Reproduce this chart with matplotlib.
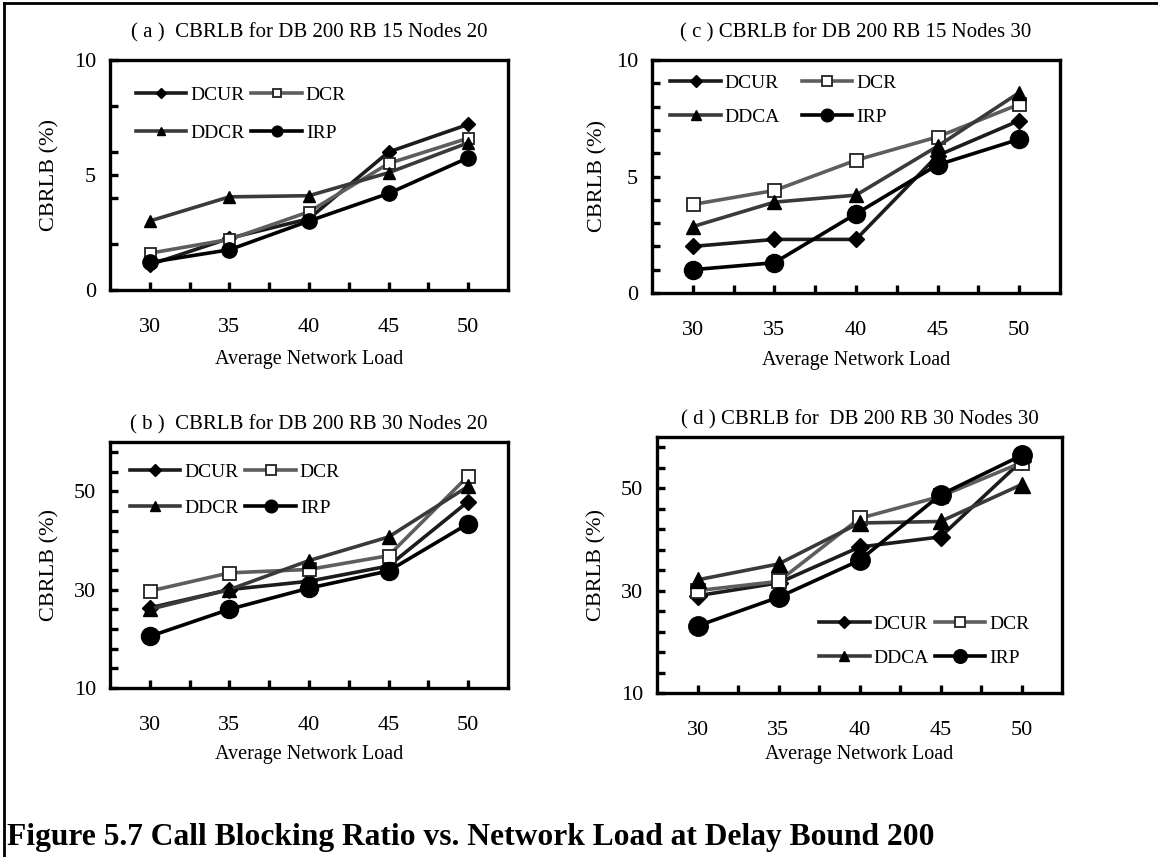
"""Call blocking ratio vs. network load, four-panel figure."""
import matplotlib
matplotlib.use("Agg")
import matplotlib.pyplot as plt
from matplotlib.lines import Line2D
from matplotlib.ticker import FixedLocator
import numpy as np

plt.rcParams["font.family"] = ["Liberation Serif", "DejaVu Serif"]
plt.rcParams["font.size"] = 14

loads = [30, 35, 40, 45, 50]

# (a) DB 200, RB 15, 20 nodes
a_dcur = [1.1, 2.25, 3.1, 6.0, 7.2]
a_dcr = [1.6, 2.2, 3.4, 5.5, 6.6]
a_ddcr = [3.0, 4.05, 4.1, 5.1, 6.4]
a_irp = [1.2, 1.75, 3.0, 4.2, 5.75]

# (c) DB 200, RB 15, 30 nodes
c_dcur = [2.0, 2.3, 2.3, 5.9, 7.4]
c_dcr = [3.8, 4.4, 5.7, 6.7, 8.1]
c_ddca = [2.85, 3.9, 4.2, 6.3, 8.6]
c_irp = [1.0, 1.3, 3.4, 5.5, 6.6]

# (b) DB 200, RB 30, 20 nodes
b_dcur = [26.3, 30.0, 31.7, 34.8, 47.9]
b_dcr = [29.7, 33.4, 34.1, 36.9, 53.1]
b_ddcr = [26.0, 30.0, 35.9, 40.7, 51.0]
b_irp = [20.5, 26.0, 30.3, 33.8, 43.4]

# (d) DB 200, RB 30, 30 nodes
d_dcur = [29.0, 31.5, 38.5, 40.5, 55.3]
d_dcr = [30.0, 31.8, 44.1, 48.4, 55.0]
d_ddca = [32.1, 35.2, 43.2, 43.5, 50.7]
d_irp = [23.1, 28.7, 35.9, 48.7, 56.4]

W, H = 1158, 857


def px_axes(fig, left, top, right, bottom):
    return fig.add_axes([left / W, 1 - bottom / H, (right - left) / W, (bottom - top) / H])


def panel(ax, title, series, names, ylim, major, minor, circle, leg_anchor, colsp, lblsp):
    styles = [
        dict(color="#1c1c1c", marker="D", ms=circle * 0.65, mfc="black", mec="black"),
        dict(color="#5e5e5e", marker="s", ms=circle * 0.72, mfc="white", mec="#222222", mew=1.3),
        dict(color="#3a3a3a", marker="^", ms=circle * 0.8, mfc="black", mec="black"),
        dict(color="black", marker="o", ms=circle, mfc="black", mec="black"),
    ]
    for vals, name, st in zip(series, names, styles):
        ax.plot(loads, vals, lw=2.6, label=name, **st)

    ax.set_xlim(27.5, 52.5)
    ax.set_ylim(*ylim)
    ax.set_xticks(loads)
    ax.xaxis.set_minor_locator(FixedLocator([32.5, 37.5, 42.5, 47.5]))
    ax.set_yticks(major)
    ax.yaxis.set_minor_locator(FixedLocator(minor))
    ax.tick_params(which="both", direction="in", length=6, width=2.4,
                   top=False, right=False, labelsize=16)
    ax.tick_params(axis="x", pad=20)
    ax.tick_params(axis="y", pad=10)
    for sp in ax.spines.values():
        sp.set_linewidth(2.4)

    ax.text(0.5, title[1], title[0], transform=ax.transAxes,
            ha="center", va="center", fontsize=15)
    ax.set_xlabel("Average Network Load", fontsize=14.5)
    ax.set_ylabel("CBRLB (%)", fontsize=16)

    order = [0, 2, 1, 3]
    h, l = ax.get_legend_handles_labels()
    ax.legend([h[i] for i in order], [l[i] for i in order], ncol=2,
              loc="upper left", bbox_to_anchor=leg_anchor, frameon=False,
              borderpad=0, borderaxespad=0, handlelength=2.6,
              handletextpad=0.2, columnspacing=colsp, labelspacing=lblsp,
              markerscale=0.7, fontsize=14)


fig = plt.figure(figsize=(W / 100, H / 100), dpi=100)

ax_a = px_axes(fig, 110, 60, 508, 290)
ax_c = px_axes(fig, 652, 60, 1060, 293)
ax_b = px_axes(fig, 110, 442, 508, 688)
ax_d = px_axes(fig, 657, 437, 1062, 693)

panel(ax_a, ("( a )  CBRLB for DB 200 RB 15 Nodes 20", 1 + 27 / 230),
      [a_dcur, a_dcr, a_ddcr, a_irp], ["DCUR", "DCR", "DDCR", "IRP"],
      (0, 10), [0, 5, 10], [2, 4, 6, 8], 11, (0.065, 0.885), 0.35, 1.05)
panel(ax_c, ("( c ) CBRLB for DB 200 RB 15 Nodes 30", 1 + 27 / 233),
      [c_dcur, c_dcr, c_ddca, c_irp], ["DCUR", "DCR", "DDCA", "IRP"],
      (0, 10), [0, 5, 10], np.arange(1, 10), 13, (0.045, 0.94), 1.1, 0.85)
panel(ax_b, ("( b )  CBRLB for DB 200 RB 30 Nodes 20", 1 + 17 / 246),
      [b_dcur, b_dcr, b_ddcr, b_irp], ["DCUR", "DCR", "DDCR", "IRP"],
      (10, 60), [10, 30, 50], np.arange(14, 60, 4), 13, (0.05, 0.915), 0.35, 0.95)
panel(ax_d, ("( d ) CBRLB for  DB 200 RB 30 Nodes 30", 1 + 17 / 256),
      [d_dcur, d_dcr, d_ddca, d_irp], ["DCUR", "DCR", "DDCA", "IRP"],
      (10, 60), [10, 30, 50], np.arange(14, 60, 4), 14, (0.4, 0.305), 0.3, 0.85)

# label placement per panel (axes fractions)
for ax, ylx, xly in [(ax_a, -0.15, -0.304), (ax_c, -0.132, -0.288),
                     (ax_b, -0.15, -0.272), (ax_d, -0.148, -0.242)]:
    ax.yaxis.set_label_coords(ylx, 0.5)
    ax.xaxis.set_label_coords(0.5, xly)
    ax.xaxis.label.set_va("center")
    ax.yaxis.label.set_va("center")

fig.text(7 / W, 1 - 838 / H, "Figure 5.7 Call Blocking Ratio vs. Network Load at Delay Bound 200",
         fontsize=22.7, fontweight="bold", ha="left", va="center")

# page frame: top and left edges
fig.add_artist(Line2D([4 / W, 1], [1 - 3 / H, 1 - 3 / H], transform=fig.transFigure,
                      color="black", lw=2))
fig.add_artist(Line2D([4 / W, 4 / W], [0, 1 - 3 / H], transform=fig.transFigure,
                      color="black", lw=2))

fig.savefig("out.png", dpi=100)
plt.close(fig)
